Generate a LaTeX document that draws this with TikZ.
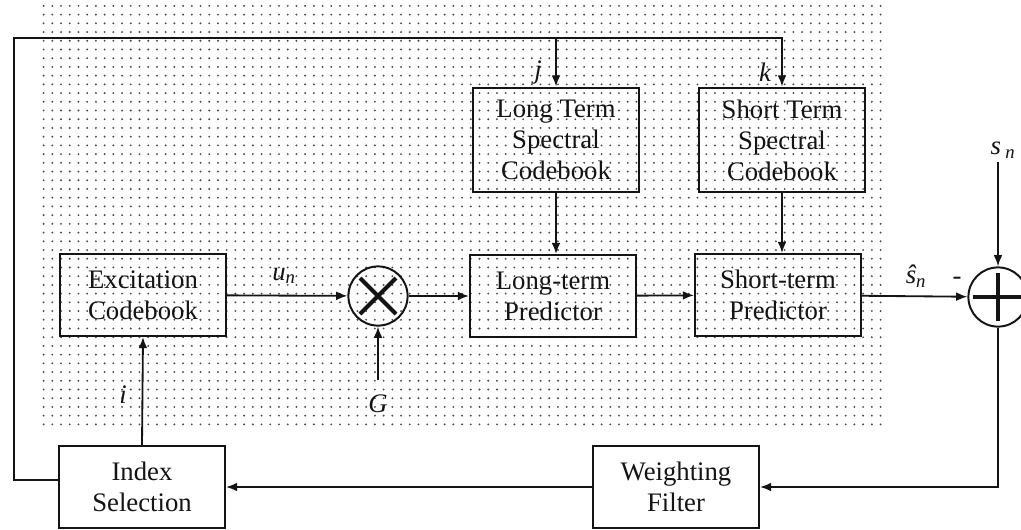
\documentclass[tikz,border=0pt]{standalone}
\usepackage{fontspec}
\setmainfont{Liberation Serif}
\usetikzlibrary{arrows.meta,patterns.meta,positioning,calc}
\definecolor{ink}{HTML}{141414}
\definecolor{dotgray}{HTML}{4A4A4A}
\tikzset{
  box/.style={draw=ink, line width=1.4pt, minimum width=4.15cm, minimum height=2.05cm,
    align=center, font=\fontsize{19}{22}\selectfont, text=ink, inner sep=2pt},
  cbbox/.style={box, minimum height=2.62cm},
  junction/.style={circle, draw=ink, line width=1.4pt, minimum size=1.48cm, inner sep=0pt},
  sig/.style={-{Latex[length=2.8mm,width=2.2mm]}, draw=ink, line width=1.3pt},
  sym/.style={draw=ink, line width=2.8pt},
  elabel/.style={font=\fontsize{19}{20}\selectfont\itshape, text=ink, inner sep=1pt}
}
\begin{document}
\begin{tikzpicture}[x=0.025cm,y=-0.025cm]
  \useasboundingbox (0,0) rectangle (1021,529);
  \fill[white] (0,0) rectangle (1021,529);
  \fill[pattern={Dots[distance=6.2pt,radius=.75pt]}, pattern color=dotgray] (37,5) rectangle (888,430);

  \node[box] (exc) at (143,295) {Excitation\\Codebook};
  \node[junction] (mult) at (378,296) {};
  \node[box] (ltp) at (553,296) {Long-term\\Predictor};
  \node[box] (stp) at (778,295) {Short-term\\Predictor};
  \node[cbbox] (ltc) at (556,140) {Long Term\\Spectral\\Codebook};
  \node[cbbox] (stc) at (782,140) {Short Term\\Spectral\\Codebook};
  \node[junction] (sum) at (998,297) {};
  \node[box] (idx) at (142,487) {Index\\Selection};
  \node[box] (wf) at (676,487) {Weighting\\Filter};

  \draw[sym] (mult.center) ++(-18,-18) -- ++(36,36);
  \draw[sym] (mult.center) ++(-18,18) -- ++(36,-36);
  \draw[sym] (sum.center) ++(0,-24) -- ++(0,48);
  \draw[sym] (sum.center) ++(-25,0) -- ++(50,0);

  \node[elabel] (jlab) at (538,72) {j};
  \node[elabel] (klab) at (765,72) {k};
  \node[elabel] (ilab) at (123,395) {i};
  \node[elabel] (glab) at (378,404) {G};
  \node[elabel] (unlab) at (284,276) {u\textsubscript{n}};
  \node[elabel] (snlab) at (1003,150) {s\,\textsubscript{n}};
  \node[elabel] (shlab) at (916,276) {\^s\textsubscript{n}};
  \node[font=\fontsize{19}{20}\selectfont, text=ink] (minus) at (957,281) {-};

  \coordinate (gin) at (378,380);
  \coordinate (sin) at (998,162);
  \coordinate (corner) at (14,38);

  \draw[sig] (exc) -- (mult);
  \draw[sig] (mult) -- (ltp);
  \draw[sig] (ltp) -- (stp);
  \draw[sig] (stp) -- (sum);
  \draw[sig] (gin) -- (mult.south);
  \draw[sig] (sin) -- (sum.north);
  \draw[sig] (ltc.south) -- (ltc.south |- ltp.north);
  \draw[sig] (stc.south) -- (stc.south |- stp.north);
  \draw[sig] (sum.south) |- (wf.east);
  \draw[sig] (wf.west) -- (idx.east);
  \draw[sig] (idx.north) -- (exc.south);
  \draw[sig] ([yshift=.18cm]idx.west) -| (corner) -| (stc.north);
  \draw[sig] (ltc.north |- corner) -- (ltc.north);
\end{tikzpicture}
\end{document}
